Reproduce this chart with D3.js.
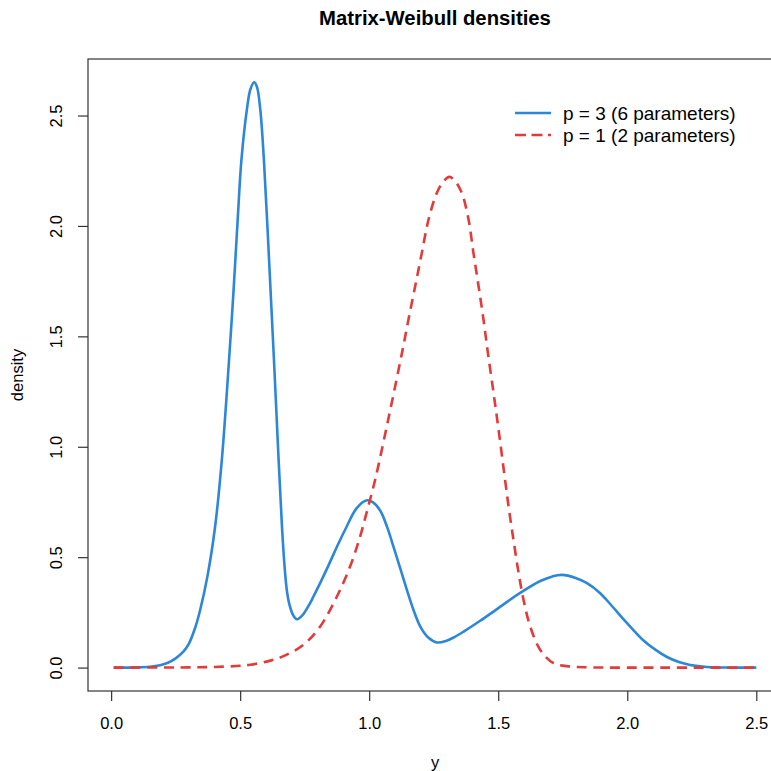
<!DOCTYPE html>
<html><head><meta charset="utf-8">
<script src="https://cdn.jsdelivr.net/npm/d3@7"></script>
<style>body{margin:0;background:#fff}svg{display:block}text{font-family:"Liberation Sans",Arial,sans-serif}</style>
</head><body>
<script>
// Data
const blueX = [0.01,0.10,0.15,0.19,0.22,0.25,0.28,0.30,0.325,0.345,0.373,0.403,0.429,0.457,0.474,0.490,0.505,0.526,0.540,0.554,0.565,0.578,0.592,0.612,0.631,0.649,0.662,0.674,0.682,0.691,0.705,0.720,0.740,0.771,0.784,0.815,0.849,0.880,0.913,0.950,0.988,1.015,1.043,1.070,1.094,1.120,1.146,1.172,1.198,1.230,1.262,1.300,1.330,1.366,1.430,1.495,1.585,1.663,1.710,1.747,1.800,1.844,1.895,1.934,1.986,2.030,2.063,2.110,2.154,2.200,2.244,2.309,2.400,2.500];
const blueY = [0,0.001,0.004,0.011,0.022,0.042,0.072,0.105,0.178,0.261,0.412,0.639,0.941,1.394,1.70,2.02,2.30,2.527,2.62,2.651,2.63,2.527,2.30,1.847,1.394,0.941,0.639,0.430,0.34,0.285,0.238,0.219,0.235,0.292,0.322,0.395,0.48,0.56,0.639,0.72,0.757,0.748,0.71,0.635,0.548,0.45,0.352,0.26,0.186,0.135,0.114,0.122,0.138,0.163,0.212,0.265,0.338,0.392,0.413,0.420,0.406,0.382,0.337,0.288,0.218,0.162,0.123,0.08,0.048,0.025,0.012,0.003,0,0];
const redX = [0.01,0.30,0.40,0.50,0.539,0.603,0.668,0.745,0.810,0.875,0.926,0.965,0.994,1.023,1.075,1.127,1.152,1.178,1.204,1.230,1.262,1.290,1.311,1.335,1.359,1.385,1.404,1.424,1.443,1.460,1.482,1.501,1.521,1.540,1.559,1.579,1.598,1.624,1.663,1.714,1.779,1.85,2.0,2.5];
const redY = [0,0.001,0.003,0.008,0.013,0.027,0.052,0.103,0.186,0.322,0.458,0.594,0.72,0.85,1.13,1.425,1.575,1.726,1.878,2.029,2.149,2.205,2.222,2.20,2.149,2.029,1.878,1.726,1.575,1.425,1.243,1.08,0.90,0.730,0.579,0.428,0.307,0.186,0.080,0.020,0.005,0.001,0,0];
const xTicks = [0.0,0.5,1.0,1.5,2.0,2.5];
const yTicks = [0.0,0.5,1.0,1.5,2.0,2.5];
const seriesNames = ["p = 3 (6 parameters)","p = 1 (2 parameters)"];
const seriesColors = ["#2D87D8","#E23B3B"];

const W = 771, H = 771;
const svg = d3.select("body").append("svg").attr("width",W).attr("height",H);
const x = d3.scaleLinear().domain([-0.0896,2.5996]).range([88,782]);
const y = d3.scaleLinear().domain([-0.106,2.756]).range([691,59]);
const axisColor = "#333";
const ff = "'Liberation Sans',Arial,sans-serif";

// box
svg.append("rect").attr("x",88).attr("y",59).attr("width",782-88).attr("height",691-59)
  .attr("fill","none").attr("stroke",axisColor).attr("stroke-width",1.2);

// x axis
const xa = svg.append("g").attr("transform","translate(0,691)")
  .call(d3.axisBottom(x).tickValues(xTicks).tickFormat(d3.format(".1f")).tickSize(10).tickPadding(16));
xa.select(".domain").remove();
xa.selectAll("line").attr("stroke",axisColor).attr("stroke-width",1.2);
xa.selectAll("text").attr("font-size",16.5).attr("fill","#000").style("font-family",ff);

// y axis
const ya = svg.append("g").attr("transform","translate(88,0)")
  .call(d3.axisLeft(y).tickValues(yTicks).tickFormat(d3.format(".1f")).tickSize(10));
ya.select(".domain").remove();
ya.selectAll("line").attr("stroke",axisColor).attr("stroke-width",1.2);
ya.selectAll("text").attr("font-size",16.5).attr("fill","#000")
  .attr("x",0).attr("dy",0).attr("text-anchor","middle")
  .attr("dominant-baseline","middle")
  .attr("transform","translate(-30,0) rotate(-90)")
  .style("font-family",ff);

// titles
svg.append("text").attr("x",435).attr("y",25).attr("text-anchor","middle")
  .attr("font-size",20.3).attr("font-weight","bold").text("Matrix-Weibull densities");
svg.append("text").attr("x",435).attr("y",768).attr("text-anchor","middle")
  .attr("font-size",16.5).text("y");
svg.append("text").attr("transform","translate(23,375) rotate(-90)").attr("text-anchor","middle")
  .attr("font-size",16.5).text("density");

// lines
const line = d3.line().x(d=>x(d[0])).y(d=>y(d[1])).curve(d3.curveCatmullRom.alpha(0.5));
const blue = blueX.map((v,i)=>[v,blueY[i]]);
const red = redX.map((v,i)=>[v,redY[i]]);
svg.append("path").datum(blue).attr("d",line).attr("fill","none")
  .attr("stroke",seriesColors[0]).attr("stroke-width",2.6);
svg.append("path").datum(red).attr("d",line).attr("fill","none")
  .attr("stroke",seriesColors[1]).attr("stroke-width",2.6).attr("stroke-dasharray","10,6.7");

// legend
const lg = svg.append("g");
[0,1].forEach(i=>{
  const yy = 113 + i*22;
  lg.append("line").attr("x1",515).attr("x2",551).attr("y1",yy).attr("y2",yy)
    .attr("stroke",seriesColors[i]).attr("stroke-width",2.6)
    .attr("stroke-dasharray", i===1 ? "11,5.5" : null);
  lg.append("text").attr("x",563).attr("y",yy).attr("dy","0.35em")
    .attr("font-size",19).text(seriesNames[i]);
});
</script>
</body></html>
